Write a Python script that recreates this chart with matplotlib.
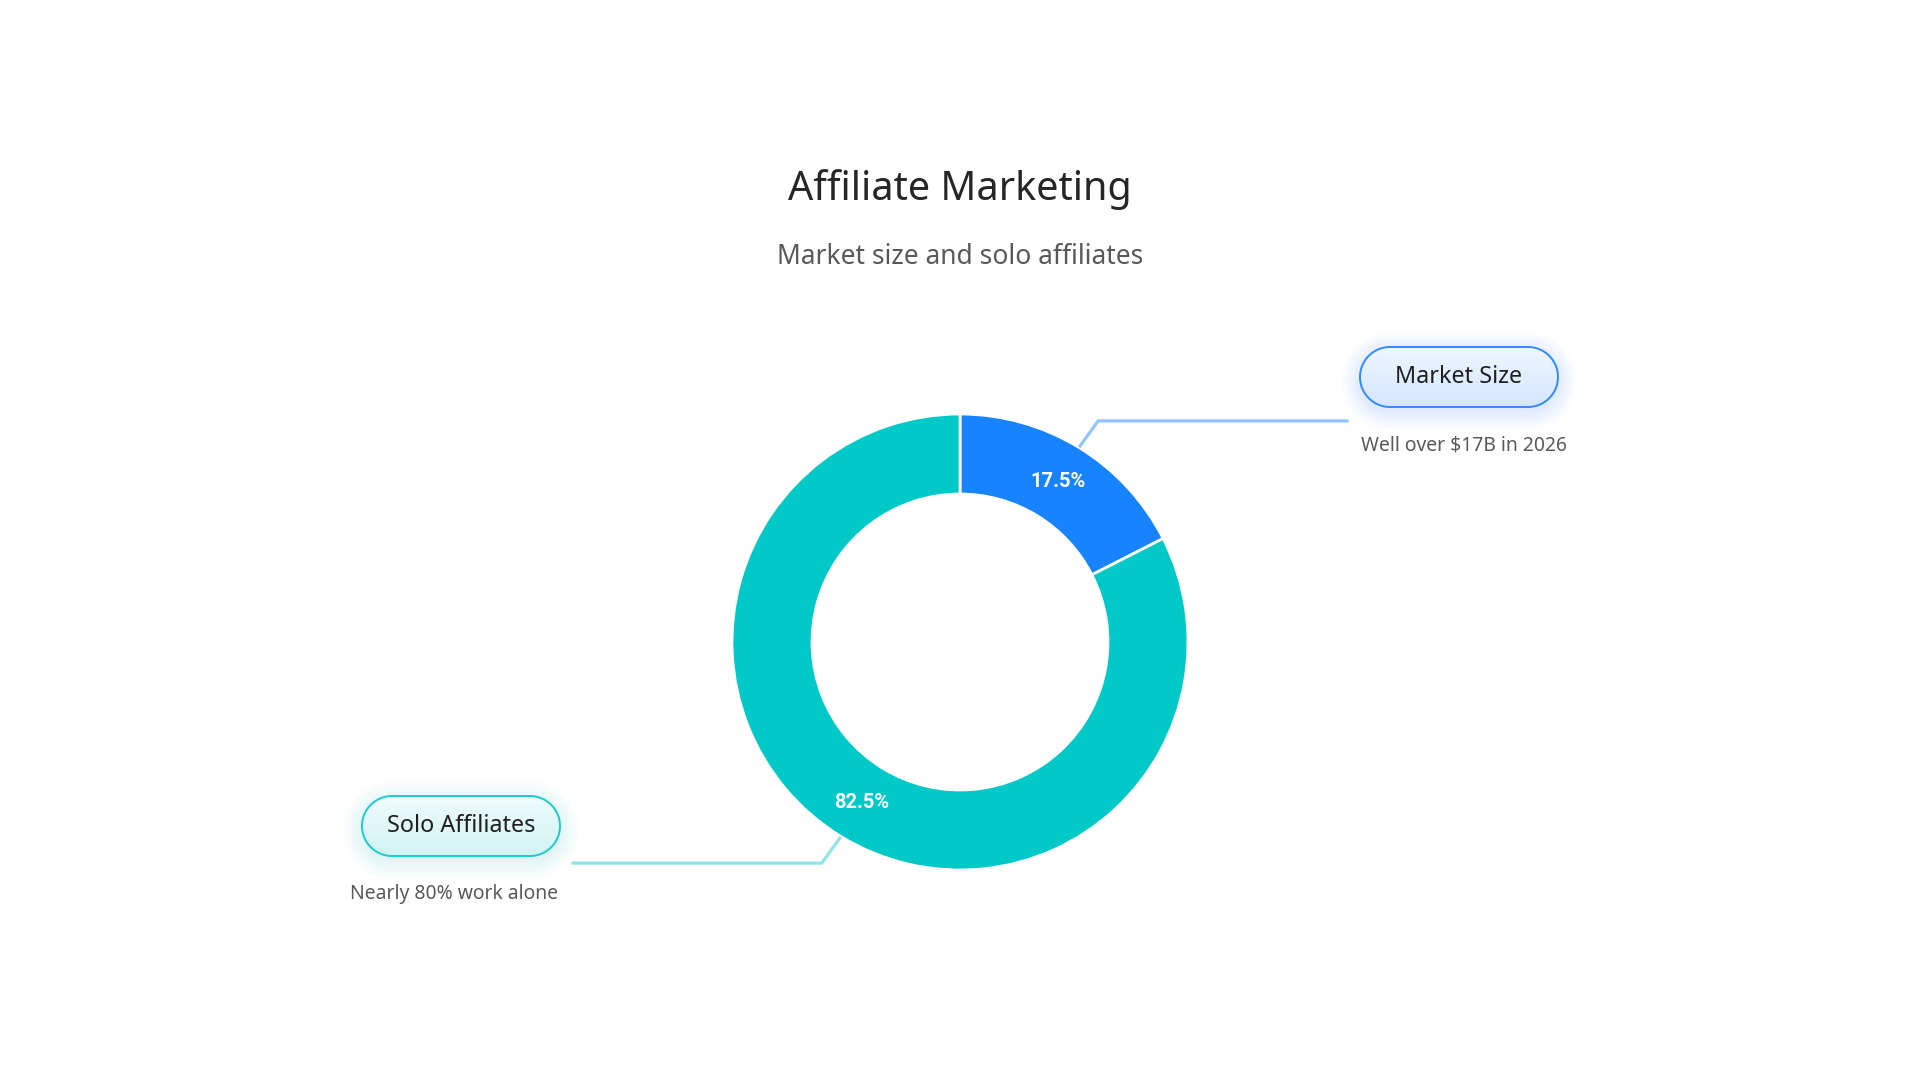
import matplotlib.pyplot as plt
import numpy as np
from matplotlib.patches import Polygon
from matplotlib.colors import LinearSegmentedColormap

plt.rcParams['font.family'] = ['Noto Sans', 'DejaVu Sans']

# data
labels = ["Market Size", "Solo Affiliates"]
values = [17.5, 82.5]
notes = ["Well over $17B in 2026", "Nearly 80% work alone"]
colors = ["#1783FF", "#00C9C8"]
line_colors = ["#93C4FF", "#8FE5E3"]
box_edges = ["#2F8BFF", "#1CCBCB"]
box_fills = [("#EFF6FF", "#D4E6FF"), ("#EFFCFC", "#D2F3F3")]

W, H = 1920, 1080
fig = plt.figure(figsize=(19.2, 10.8), dpi=100)
ax = fig.add_axes([0, 0, 1, 1])

cx, cy = 960, H - 642
R, ring = 228, 80

wedges, _, autotexts = ax.pie(
    values, colors=colors, startangle=90, counterclock=False,
    radius=R, center=(cx, cy), autopct='%.1f%%', pctdistance=0.825,
    wedgeprops=dict(width=ring, edgecolor='white', linewidth=2))
for t in autotexts:
    t.set_color('white')
    t.set_fontsize(14.5)
    t.set_fontfamily(['Roboto', 'Liberation Sans', 'DejaVu Sans'])
    t.set_fontweight('bold')

ax.set_xlim(0, W)
ax.set_ylim(0, H)
ax.set_aspect('equal')
ax.axis('off')

fig.text(0.5, 1 - 190 / H, "Affiliate Marketing", ha='center', va='center',
         fontsize=28.5, color='#262626')
fig.text(0.5, 1 - 257 / H, "Market size and solo affiliates", ha='center',
         va='center', fontsize=19, color='#595959')


def pill(x, y, w, h):
    r = h / 2
    a1 = np.linspace(-np.pi / 2, np.pi / 2, 40)
    a2 = np.linspace(np.pi / 2, 3 * np.pi / 2, 40)
    right = np.column_stack([x + w - r + r * np.cos(a1), y + r + r * np.sin(a1)])
    left = np.column_stack([x + r + r * np.cos(a2), y + r + r * np.sin(a2)])
    return np.vstack([right, left])


# label boxes: (box left, box center y (from top), horizontal line end x, side)
boxes = [(1360, 377, 1347, 'left'), (362, 826, 573, 'right')]
bw, bh = 198, 60

for i, w in enumerate(wedges):
    mid = np.deg2rad((w.theta1 + w.theta2) / 2)
    sx = cx + (R + 2) * np.cos(mid)
    sy = cy + (R + 2) * np.sin(mid)
    ey = sy + 25 * np.sign(np.sin(mid))
    ex = sx + 18 * np.sign(np.cos(mid))
    bx, byc, lx, side = boxes[i]
    ax.plot([sx, ex, lx], [sy, ey, ey], color=line_colors[i], lw=2.3,
            solid_joinstyle='miter', zorder=1)

    by = H - byc - bh / 2
    # soft glow
    for k in range(10):
        p = 1 + k * 2.0
        ax.add_patch(Polygon(pill(bx - p, by - p - 4, bw + 2 * p, bh + 2 * p),
                             closed=True, fc=colors[i], ec='none', alpha=0.012,
                             zorder=2))
    box = Polygon(pill(bx, by, bw, bh), closed=True, fc='none',
                  ec=box_edges[i], lw=1.4, zorder=4)
    ax.add_patch(box)
    cmap = LinearSegmentedColormap.from_list('g', [box_fills[i][1], box_fills[i][0]])
    grad = np.linspace(0, 1, 64).reshape(-1, 1)
    im = ax.imshow(grad, cmap=cmap, extent=(bx, bx + bw, by, by + bh),
                   origin='lower', aspect='auto', zorder=3)
    im.set_clip_path(box)
    ax.text(bx + bw / 2, by + bh / 2, labels[i], ha='center', va='center',
            fontsize=16.8, color='#1F1F1F', zorder=5)
    if side == 'left':
        ax.text(bx + 1, by - 38, notes[i], ha='left', va='center',
                fontsize=13.9, color='#595959')
    else:
        ax.text(bx + bw - 2, by - 38, notes[i], ha='right', va='center',
                fontsize=13.9, color='#595959')

ax.set_xlim(0, W)
ax.set_ylim(0, H)
fig.savefig("out.png", dpi=100, facecolor='white')
